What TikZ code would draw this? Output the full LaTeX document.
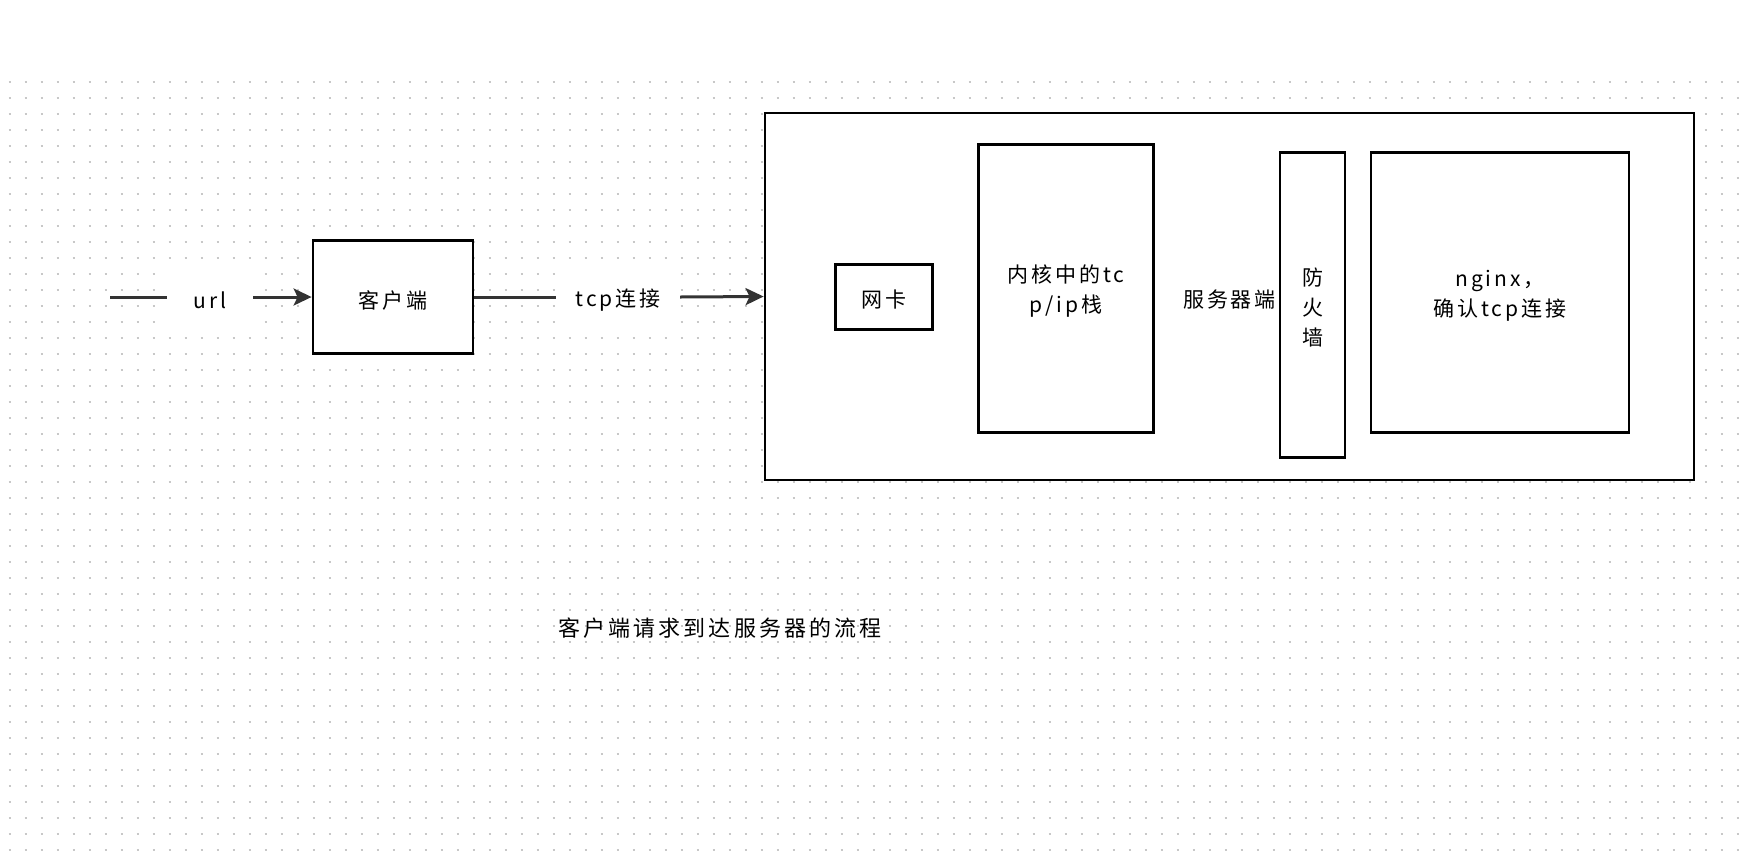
\documentclass[tikz,border=0pt]{standalone}
\usepackage{fontspec}
\setmainfont{Noto Sans CJK SC}[LetterSpace=14]
\usepackage{tikz}
\usetikzlibrary{arrows.meta, positioning}
\definecolor{gridgray}{RGB}{200,200,200}
\definecolor{linegray}{RGB}{51,51,51}

\begin{document}
\begin{tikzpicture}[
  x=1pt, y=-1pt,
  >={Stealth[length=18pt, width=17pt, inset=4pt]},
  every node/.style={font=\fontsize{21pt}{30pt}\selectfont, text=black},
  blk/.style={rectangle, draw=black, line width=2.8pt, fill=white, inner sep=0pt},
  lbl/.style={rectangle, fill=white, inner sep=0pt, minimum height=60pt},
  txt/.style={label={[align=center, inner sep=0pt, yshift=-3pt]center:{#1}}},
  conn/.style={draw=linegray, line width=3pt},
  dotrow/.style={draw=gridgray, line width=2pt, dash pattern=on 2pt off 14pt}
]
\useasboundingbox (0,0) rectangle (1752,852);

% ---- dot grid ----
\foreach \j in {0,...,48}
  \draw[dotrow] (8.7,81.7+16*\j) -- (1740,81.7+16*\j);

% ---- client side ----
\coordinate (src) at (110,297);
\node[lbl, minimum width=86pt, txt={url}] (url) at (210,297) {};
\node[blk, minimum width=160pt, minimum height=113pt, txt={客户端}] (client) at (393,297) {};
\node[lbl, minimum width=124pt, txt={tcp连接}] (tcp) at (618,297) {};

% ---- server side ----
\node[blk, minimum width=929pt, minimum height=367pt, txt={服务器端}] (server) at (1229.5,296.5) {};
\node[blk, minimum width=97pt, minimum height=65pt, txt={网卡}] (nic) at (884.3,296.8) {};
\node[blk, minimum width=175pt, minimum height=288pt, txt={内核中的tc\\p/ip栈}] (kernel) at (1065.8,288.5) {};
\node[blk, minimum width=65pt, minimum height=305pt, txt={防\\火\\墙}] (fw) at (1312.5,304.8) {};
\node[blk, minimum width=258pt, minimum height=280pt, txt={nginx，\\确认tcp连接}] (nginx) at (1500,292.5) {};

% connectors
\draw[conn] (src) -- (url.west);
\draw[conn, ->] (url.east) -- (client.west);
\draw[conn] (client.east) -- (tcp.west);
\draw[conn, ->] (tcp.east) -- (server.west);

% caption
\node[font=\fontsize{22pt}{30pt}\selectfont] (caption) at (720,628) {客户端请求到达服务器的流程};
\end{tikzpicture}
\end{document}
